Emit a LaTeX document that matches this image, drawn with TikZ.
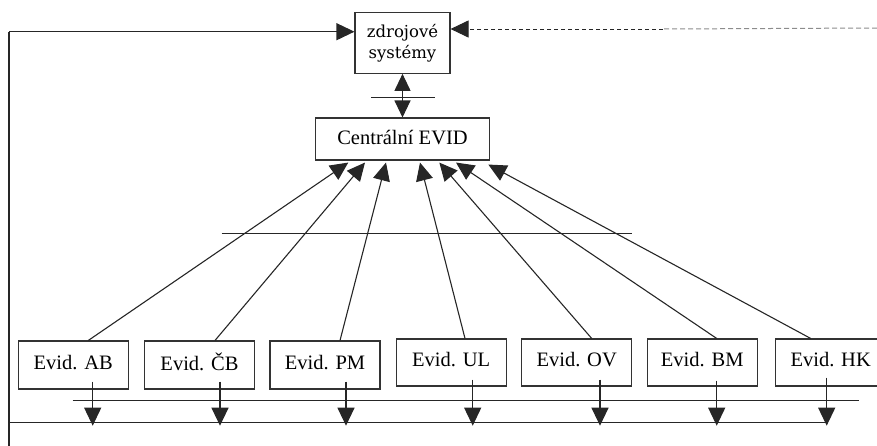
\documentclass[tikz,border=0pt]{standalone}
\usepackage{fontspec}
\setmainfont{Liberation Serif}
\newfontfamily\srcfont{DejaVu Serif}
\usetikzlibrary{arrows.meta}
\begin{document}
\begin{tikzpicture}[x=1pt,y=-1pt,
  line width=1.1pt,
  ln/.style={draw=black!85},
  headtip/.style={-{Triangle[length=18pt,width=17pt]}},
  bothtips/.style={{Triangle[length=17pt,width=16pt]}-{Triangle[length=17pt,width=16pt]}},
  evbox/.style={draw=black!80, minimum width=110pt, minimum height=48pt, inner sep=0pt,
    font=\fontsize{20.5}{24}\selectfont, text depth=6pt},
  cenbox/.style={draw=black!80, minimum width=173.6pt, minimum height=42pt, inner sep=0pt,
    font=\fontsize{20.5}{24}\selectfont, text depth=4pt},
  srcbox/.style={draw=black!80, minimum width=95pt, minimum height=61pt, inner sep=0pt,
    align=center, font=\srcfont\fontsize{16.5}{21}\selectfont}]
\useasboundingbox (0,0) rectangle (877,445);

% source systems and central register
\node[srcbox] (zd) at (402.5,42.8) {zdrojové\\systémy};
\node[cenbox] (cen) at (402.5,139) {Centrální EVID};

% regional registers
\node[evbox] (ab) at (73.3,365) {Evid. AB};
\node[evbox] (cb) at (199.5,365) {Evid. ČB};
\node[evbox] (pm) at (325,365) {Evid. PM};
\node[evbox, minimum height=47pt] (ul) at (451.2,362.5) {Evid. UL};
\node[evbox, minimum height=47pt] (ov) at (576.7,362.5) {Evid. OV};
\node[evbox, minimum height=47pt] (bm) at (702.2,362.5) {Evid. BM};
\node[evbox, minimum height=47pt] (hk) at (830.7,362.5) {Evid. HK};

% free ends of the outer lines
\coordinate (corner) at (9,31.7);
\coordinate (leftbot) at (9,447);
\coordinate (busL) at (9,422.7);
\coordinate (busR) at (826.7,422.7);
\coordinate (dashA) at (663,29);
\coordinate (dashB) at (877,28);

% feedback loop on the left and bus at the bottom
\draw[ln] (leftbot) -- (corner);
\draw[ln,headtip] (corner) -- (corner -| zd.west);
\draw[ln] (busL) -- (busR);

% incoming dashed link from the right
\draw[draw=black!45, line width=1pt, dash pattern=on 5pt off 3pt] (dashB) -- (dashA);
\draw[ln, line width=1pt, dash pattern=on 4pt off 3pt, headtip] (dashA) -- (dashA -| zd.east);

% link between source systems and central register
\draw[ln,bothtips] (zd.south) -- (cen.north);

% crossing bars
\coordinate (barA1) at (371,97.7);
\coordinate (barA2) at (435,97.7);
\coordinate (barB1) at (221.7,233.3);
\coordinate (barB2) at (631.7,233.3);
\coordinate (barC1) at (72.7,400.3);
\coordinate (barC2) at (859.3,400.3);
\draw[ln] (barA1) -- (barA2);
\draw[ln] (barB1) -- (barB2);
\draw[ln] (barC1) -- (barC2);

% regional registers feed the central register
\draw[ln,headtip] ([xshift=15pt]ab.north) -- ([xshift=-54.2pt,yshift=-2pt]cen.south);
\draw[ln,headtip] ([xshift=15.5pt]cb.north) -- ([xshift=-37.5pt,yshift=-2pt]cen.south);
\draw[ln,headtip] ([xshift=15pt]pm.north) -- ([xshift=-16.5pt,yshift=-2pt]cen.south);
\draw[ln,headtip] ([xshift=13.8pt]ul.north) -- ([xshift=17.5pt,yshift=-2pt]cen.south);
\draw[ln,headtip] ([xshift=15pt]ov.north) -- ([xshift=36.8pt,yshift=-2pt]cen.south);
\draw[ln,headtip] ([xshift=14.5pt]bm.north) -- ([xshift=53.5pt,yshift=-2pt]cen.south);
\draw[ln,headtip] ([xshift=-20pt]hk.north) -- ([xshift=85.8pt,yshift=-4pt]cen.south);

% regional registers write to the bottom bus
\foreach \n/\dx/\up in {ab/19.4/8, cb/20.5/8, pm/21/8, ul/21.5/7, ov/23.3/7, bm/14.5/6, hk/-4/9}{
  \coordinate (\n dn) at ([xshift=\dx pt]\n.south);
  \draw[ln,headtip] ([yshift=\up pt]\n dn) -- ([yshift=-3pt]\n dn |- busL);
}
\end{tikzpicture}
\end{document}
